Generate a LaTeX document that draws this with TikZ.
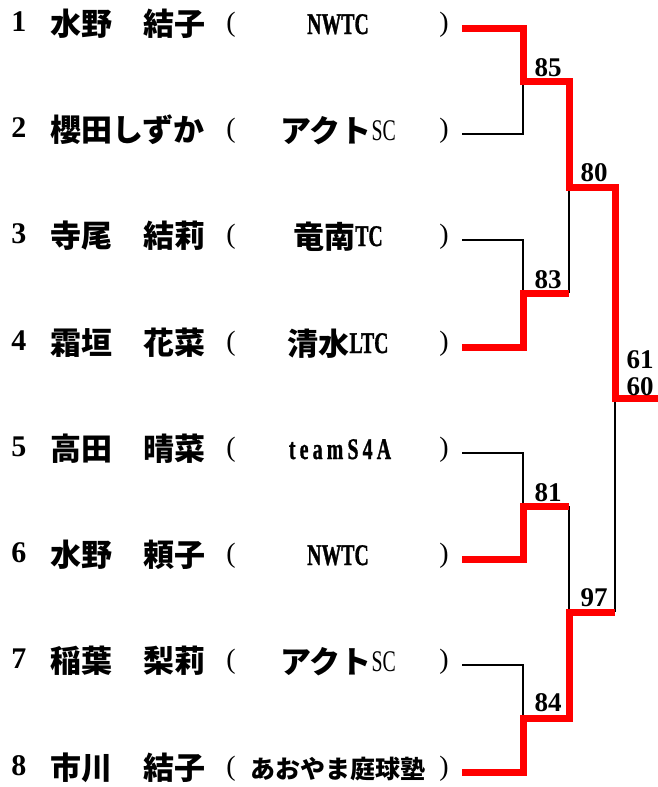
\documentclass[tikz,border=0pt]{standalone}
\usepackage{fontspec}
\setmainfont{Liberation Serif}
\newfontfamily\jpfont{Noto Sans CJK JP}
\newfontfamily\condfont{Liberation Serif}[FakeStretch=0.66]
\newfontfamily\condbfont{Liberation Serif}[FakeStretch=0.66, UprightFont=* Bold, FakeBold=1.0]
\newcommand\jpt[1]{\raisebox{-2pt}{\fontsize{31}{31}\selectfont\jpfont\bfseries #1}}
\newcommand\jps[1]{\raisebox{-2pt}{\fontsize{25}{25}\selectfont\jpfont\bfseries #1}}
\newcommand\lat[1]{{\fontsize{30}{30}\selectfont\condbfont #1}}
\newcommand\latr[1]{{\fontsize{30}{30}\selectfont\condfont #1}}
\begin{document}
\begin{tikzpicture}[x=1pt,y=-1pt,
  numtxt/.style={font={\fontsize{30}{30}\selectfont\bfseries}, anchor=base, inner sep=0pt},
  nametxt/.style={font={\fontsize{31}{31}\selectfont\jpfont\bfseries}, anchor=base west, inner sep=0pt},
  clubtxt/.style={anchor=base, inner sep=0pt},
  parentxt/.style={font={\fontsize{28}{28}\selectfont}, anchor=base, inner sep=0pt},
  scoretxt/.style={font={\fontsize{27}{27}\selectfont\bfseries}, inner sep=0pt},
  winline/.style={red, line width=7pt, line join=miter},
  loseline/.style={black, line width=2pt, line join=miter}]
\useasboundingbox (0,0) rectangle (658,787);
\fill[white] (0,0) rectangle (658,787);

% rows
\node[numtxt] (k1) at (19,31) {1};
\node[nametxt] (m1) at (50,35.5) {水野　結子};
\node[parentxt] (pl1) at (231,31) {(};
\node[clubtxt] (c1) at (338,34) {\lat{NWTC}};
\node[parentxt] (pr1) at (444,31) {)};

\node[numtxt] (k2) at (19,137) {2};
\node[nametxt] (m2) at (50,141.5) {櫻田しずか};
\node[parentxt] (pl2) at (231,137) {(};
\node[clubtxt] (c2) at (338,140) {\jpt{アクト}\latr{SC}};
\node[parentxt] (pr2) at (444,137) {)};

\node[numtxt] (k3) at (19,243) {3};
\node[nametxt] (m3) at (50,247.5) {寺尾　結莉};
\node[parentxt] (pl3) at (231,243) {(};
\node[clubtxt] (c3) at (338,246) {\jpt{竜南}\lat{TC}};
\node[parentxt] (pr3) at (444,243) {)};

\node[numtxt] (k4) at (19,350) {4};
\node[nametxt] (m4) at (50,354.5) {霜垣　花菜};
\node[parentxt] (pl4) at (231,350) {(};
\node[clubtxt] (c4) at (338,353) {\jpt{清水}\lat{LTC}};
\node[parentxt] (pr4) at (444,350) {)};

\node[numtxt] (k5) at (19,456) {5};
\node[nametxt] (m5) at (50,460.5) {高田　晴菜};
\node[parentxt] (pl5) at (231,456) {(};
\node[clubtxt] (c5) at (340,459) {\lat{\addfontfeature{LetterSpace=14}teamS4A}};
\node[parentxt] (pr5) at (444,456) {)};

\node[numtxt] (k6) at (19,562) {6};
\node[nametxt] (m6) at (50,566.5) {水野　頼子};
\node[parentxt] (pl6) at (231,562) {(};
\node[clubtxt] (c6) at (338,565) {\lat{NWTC}};
\node[parentxt] (pr6) at (444,562) {)};

\node[numtxt] (k7) at (19,668) {7};
\node[nametxt] (m7) at (50,672.5) {稲葉　梨莉};
\node[parentxt] (pl7) at (231,668) {(};
\node[clubtxt] (c7) at (338,671) {\jpt{アクト}\latr{SC}};
\node[parentxt] (pr7) at (444,668) {)};

\node[numtxt] (k8) at (19,775) {8};
\node[nametxt] (m8) at (50,779.5) {市川　結子};
\node[parentxt] (pl8) at (231,775) {(};
\node[clubtxt] (c8) at (338,776) {\jps{あおやま庭球塾}};
\node[parentxt] (pr8) at (444,775) {)};

% line ends
\coordinate (e1) at (462,28);
\coordinate (e2) at (462,134);
\coordinate (e3) at (462,240);
\coordinate (e4) at (462,347);
\coordinate (e5) at (462,453);
\coordinate (e6) at (462,559);
\coordinate (e7) at (462,665);
\coordinate (e8) at (462,772);
% junctions
\coordinate (j1) at (523,81);
\coordinate (j2) at (523,293);
\coordinate (j3) at (523,506);
\coordinate (j4) at (523,718);
\coordinate (s1) at (569,187);
\coordinate (s2) at (569,612);
\coordinate (f) at (615,398);
\coordinate (fend) at (658,398);

% losing lines
\draw[loseline] (e2) -| (j1);
\draw[loseline] (e3) -| (j2);
\draw[loseline] (e5) -| (j3);
\draw[loseline] (e7) -| (j4);
\draw[loseline] (j2 -| s1) -- (s1);
\draw[loseline] (j3 -| s2) -- (s2);
\draw[loseline] (s2 -| f) -- (f);

% winning lines
\draw[winline] (e1) -| (j1) -- (j1 -| s1) -- (s1) -- (s1 -| f) -- (f) -- (fend);
\draw[winline] (e4) -| (j2) -- (j2 -| s1);
\draw[winline] (e6) -| (j3) -- (j3 -| s2);
\draw[winline] (e8) -| (j4) -- (j4 -| s2) -- (s2) -- (s2 -| f);

% scores
\node[scoretxt] (t1) at (548,68) {85};
\node[scoretxt] (t2) at (548,280) {83};
\node[scoretxt] (t3) at (548,493) {81};
\node[scoretxt] (t4) at (548,703) {84};
\node[scoretxt] (u1) at (594,173) {80};
\node[scoretxt] (u2) at (594,598) {97};
\node[scoretxt] (v1) at (640,360) {61};
\node[scoretxt] (v2) at (640,387) {60};
\end{tikzpicture}
\end{document}
